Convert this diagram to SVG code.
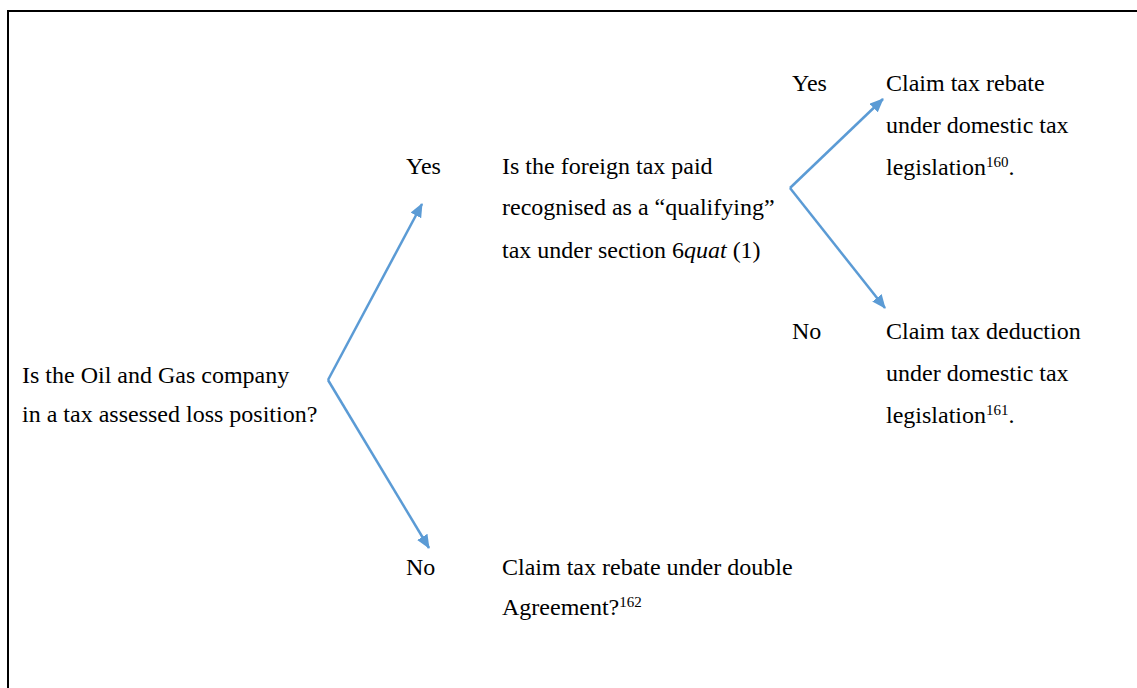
<svg xmlns="http://www.w3.org/2000/svg" width="1137" height="688" viewBox="0 0 1137 688">
<style>
text{font-family:'Liberation Serif','Times New Roman',Times,'DejaVu Serif',serif;font-size:24px;fill:#000}
.sup{font-size:15px}
.conn{stroke:#5B9BD5;stroke-width:2.5;fill:none;marker-end:url(#ah)}
</style>
<defs>
<marker id="ah" viewBox="0 0 14 12" refX="13" refY="6" markerWidth="14" markerHeight="12" orient="auto" markerUnits="userSpaceOnUse">
<path d="M0,0 L14,6 L0,12 z" fill="#5B9BD5"/>
</marker>
</defs>
<rect width="1137" height="688" fill="#fff"/>
<path d="M8,688 V11 H1137" stroke="#000" stroke-width="2" fill="none"/>
<g id="connectors">
<line class="conn" x1="328" y1="380" x2="422" y2="204"/>
<line class="conn" x1="328" y1="380" x2="429" y2="548"/>
<line class="conn" x1="790" y1="188" x2="883" y2="99"/>
<line class="conn" x1="790" y1="188" x2="885" y2="308"/>
</g>
<g id="q1">
<text x="22" y="383">Is the Oil and Gas company</text>
<text x="22" y="422">in a tax assessed loss position?</text>
</g>
<g id="yes1"><text x="406" y="174">Yes</text></g>
<g id="q2">
<text x="502" y="174">Is the foreign tax paid</text>
<text x="502" y="215">recognised as a “qualifying”</text>
<text x="502" y="258">tax under section 6<tspan font-style="italic">quat</tspan> (1)</text>
</g>
<g id="no1"><text x="406" y="575">No</text></g>
<g id="dta">
<text x="502" y="575">Claim tax rebate under double</text>
<text x="502" y="615">Agreement?<tspan class="sup" dy="-8">162</tspan></text>
</g>
<g id="yes2"><text x="792" y="91">Yes</text></g>
<g id="rebate">
<text x="886" y="91">Claim tax rebate</text>
<text x="886" y="133">under domestic tax</text>
<text x="886" y="175">legislation<tspan class="sup" dy="-8">160</tspan><tspan dy="8">.</tspan></text>
</g>
<g id="no2"><text x="792" y="339">No</text></g>
<g id="deduction">
<text x="886" y="339">Claim tax deduction</text>
<text x="886" y="381">under domestic tax</text>
<text x="886" y="423">legislation<tspan class="sup" dy="-8">161</tspan><tspan dy="8">.</tspan></text>
</g>
</svg>
